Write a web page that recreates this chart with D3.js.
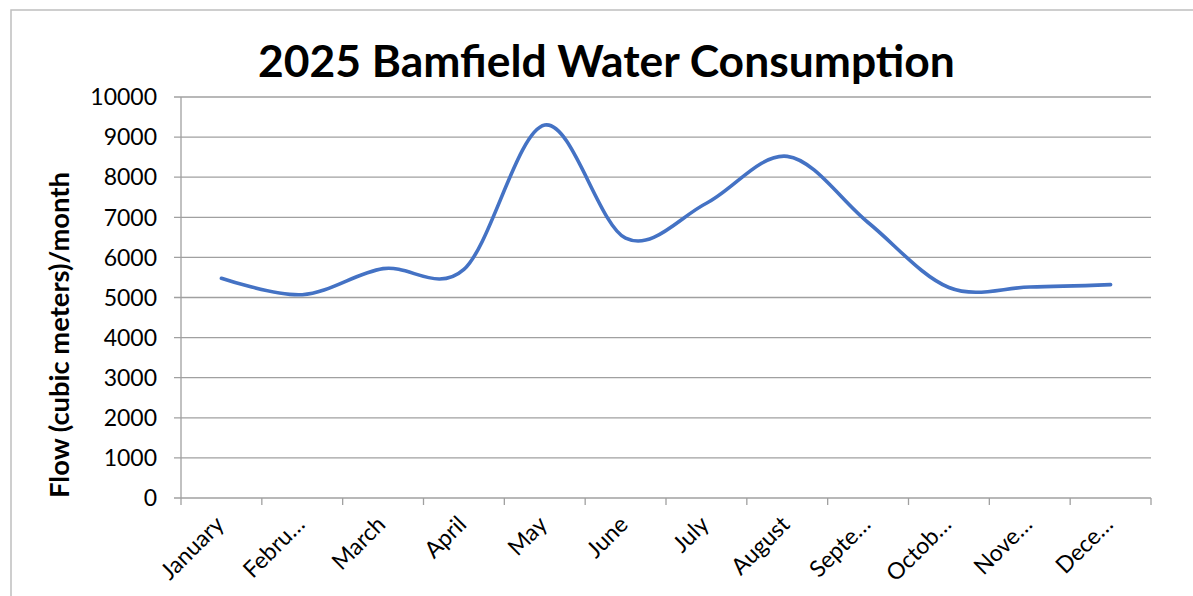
<!DOCTYPE html>
<html>
<head>
<meta charset="utf-8">
<script src="https://cdn.jsdelivr.net/npm/d3@7/dist/d3.min.js"></script>
<style>
  html, body { margin: 0; padding: 0; background: #fff; }
  svg { display: block; }
</style>
</head>
<body>
<svg id="chart" width="1193" height="596"></svg>
<script>
const titleText = "2025 Bamfield Water Consumption";
const yAxisTitle = "Flow (cubic meters)/month";
const months = ["January","February","March","April","May","June","July","August","September","October","November","December"];
const monthLabels = ["January","Febru\u2026","March","April","May","June","July","August","Septe\u2026","Octob\u2026","Nove\u2026","Dece\u2026"];
const flow = [5480, 5070, 5720, 5700, 9300, 6480, 7350, 8520, 6870, 5250, 5260, 5320];
const yTicks = [0,1000,2000,3000,4000,5000,6000,7000,8000,9000,10000];

const W = 1193, H = 596;
const margin = {left: 181, right: 1151, top: 97, bottom: 498};
const font = "Lato, 'Open Sans', sans-serif";

const svg = d3.select("#chart");

// chart border
svg.append("rect")
  .attr("x", 11).attr("y", 10)
  .attr("width", W + 20).attr("height", H + 20)
  .attr("fill", "#fff")
  .attr("stroke", "#bfbfbf").attr("stroke-width", 1.5);

const x = d3.scaleBand().domain(months).range([margin.left, margin.right]).paddingInner(0).paddingOuter(0);
const y = d3.scaleLinear().domain([0, 10000]).range([margin.bottom, margin.top]);

// gridlines
svg.append("g")
  .selectAll("line")
  .data(yTicks)
  .join("line")
  .attr("x1", margin.left - 7).attr("x2", margin.right)
  .attr("y1", d => y(d)).attr("y2", d => y(d))
  .attr("stroke", "#a0a0a0").attr("stroke-width", 1.3);

// y axis line
svg.append("line")
  .attr("x1", margin.left).attr("x2", margin.left)
  .attr("y1", margin.top).attr("y2", margin.bottom)
  .attr("stroke", "#a0a0a0").attr("stroke-width", 1.3);

// x axis ticks
const tickXs = months.map(m => x(m)).concat([margin.right]);
svg.append("g")
  .selectAll("line")
  .data(tickXs)
  .join("line")
  .attr("x1", d => d).attr("x2", d => d)
  .attr("y1", margin.bottom).attr("y2", margin.bottom + 7)
  .attr("stroke", "#a0a0a0").attr("stroke-width", 1.3);

// y tick labels
svg.append("g")
  .selectAll("text")
  .data(yTicks)
  .join("text")
  .attr("x", 157)
  .attr("y", d => y(d))
  .attr("dy", "0.36em")
  .attr("text-anchor", "end")
  .attr("font-family", font)
  .attr("font-size", 23)
  .attr("fill", "#000")
  .text(d => d);

// x tick labels
svg.append("g")
  .selectAll("text")
  .data(months)
  .join("text")
  .attr("transform", d => `translate(${x(d) + x.bandwidth() / 2 - 2},${margin.bottom + 22}) rotate(-45)`)
  .attr("text-anchor", "end")
  .attr("dy", "0.36em")
  .attr("font-family", font)
  .attr("font-size", 23)
  .attr("fill", "#000")
  .text((d, i) => monthLabels[i]);

// line
const line = d3.line()
  .x((d, i) => x(months[i]) + x.bandwidth() / 2)
  .y(d => y(d))
  .curve(d3.curveCatmullRom.alpha(0));

svg.append("path")
  .datum(flow)
  .attr("d", line)
  .attr("fill", "none")
  .attr("stroke", "#4472C4")
  .attr("stroke-width", 3.6)
  .attr("stroke-linecap", "round")
  .attr("stroke-linejoin", "round");

// title
const title = svg.append("text")
  .attr("x", 606.5).attr("y", 77)
  .attr("text-anchor", "middle")
  .attr("font-family", font)
  .attr("font-weight", "bold")
  .attr("font-size", 100)
  .attr("fill", "#000")
  .text(titleText);
{
  const w = title.node().getComputedTextLength();
  title.attr("font-size", 100 * 697 / w);
}

// y axis title
const yt = svg.append("text")
  .attr("transform", `translate(69,${(172 + 498) / 2}) rotate(-90)`)
  .attr("text-anchor", "middle")
  .attr("font-family", font)
  .attr("font-weight", "bold")
  .attr("font-size", 100)
  .attr("fill", "#000")
  .text(yAxisTitle);
{
  const w = yt.node().getComputedTextLength();
  yt.attr("font-size", 100 * 326 / w);
}
</script>
</body>
</html>
